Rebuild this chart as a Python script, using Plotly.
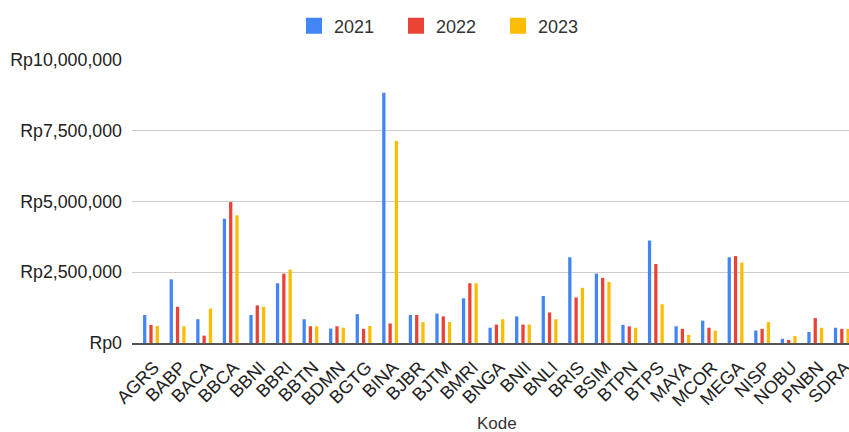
import plotly.graph_objects as go

kode = ["AGRS", "BABP", "BACA", "BBCA", "BBNI", "BBRI", "BBTN", "BDMN", "BGTG", "BINA",
        "BJBR", "BJTM", "BMRI", "BNGA", "BNII", "BNLI", "BRIS", "BSIM", "BTPN", "BTPS",
        "MAYA", "MCOR", "MEGA", "NISP", "NOBU", "PNBN", "SDRA"]

v2021 = [990000, 2250000, 840000, 4390000, 990000, 2110000, 840000, 510000, 1020000, 8840000,
         990000, 1040000, 1580000, 540000, 940000, 1660000, 3030000, 2450000, 640000, 3620000,
         590000, 790000, 3030000, 440000, 150000, 390000, 540000]
v2022 = [640000, 1280000, 260000, 4980000, 1330000, 2450000, 590000, 590000, 500000, 690000,
         990000, 940000, 2110000, 650000, 650000, 1080000, 1610000, 2300000, 590000, 2790000,
         500000, 540000, 3070000, 500000, 110000, 880000, 500000]
v2023 = [600000, 590000, 1220000, 4510000, 1280000, 2590000, 590000, 540000, 600000, 7140000,
         740000, 740000, 2110000, 840000, 650000, 840000, 1950000, 2160000, 540000, 1370000,
         290000, 440000, 2840000, 740000, 250000, 540000, 500000]

years = ["2021", "2022", "2023"]
colors = ["#4285F4", "#EA4335", "#FBBC04"]
series = [v2021, v2022, v2023]

FONT = "Liberation Sans, Arial, sans-serif"

fig = go.Figure()
for name, vals, col in zip(years, series, colors):
    fig.add_trace(go.Bar(x=kode, y=vals, name=name, marker_color=col,
                         marker_line_width=0, showlegend=False))
for name, col in zip(years, colors):
    fig.add_trace(go.Scatter(x=[None], y=[None], mode="markers", name=name,
                             marker=dict(symbol="square", size=16, color=col)))

fig.update_layout(
    width=849, height=432,
    margin=dict(l=132, r=0, t=60, b=89, autoexpand=False),
    paper_bgcolor="white", plot_bgcolor="white",
    font=dict(family=FONT, size=17, color="#333333"),
    barmode="group", bargap=0.29, bargroupgap=0.48,
    legend=dict(orientation="h", xref="container", yref="container",
                x=294 / 849, xanchor="left", y=1 - 26 / 432, yanchor="middle",
                entrywidth=57, entrywidthmode="pixels",
                font=dict(size=18, color="#333333")),
    annotations=[dict(text="Kode", xref="paper", yref="paper",
                      x=(496.7 - 132) / 717, y=-(423 - 343) / 283,
                      xanchor="center", yanchor="middle", showarrow=False,
                      font=dict(size=17, color="#333333"))],
)
fig.update_xaxes(type="category", range=[-0.715, 26.27], tickangle=-45, automargin=False,
                 showgrid=False, showline=True, linecolor="#555555", linewidth=1.5,
                 ticks="", ticklabelshift=3, ticklabelstandoff=5,
                 tickfont=dict(size=18, color="#222222"))
fig.update_yaxes(range=[0, 10000000], dtick=2500000, tickprefix="Rp", tickformat=",d",
                 automargin=False,
                 showgrid=True, gridcolor="#cccccc", gridwidth=1, zeroline=False,
                 showline=False, ticks="", ticklabelstandoff=9,
                 tickfont=dict(size=17.8, color="#222222"))

fig.write_html("out.html")
